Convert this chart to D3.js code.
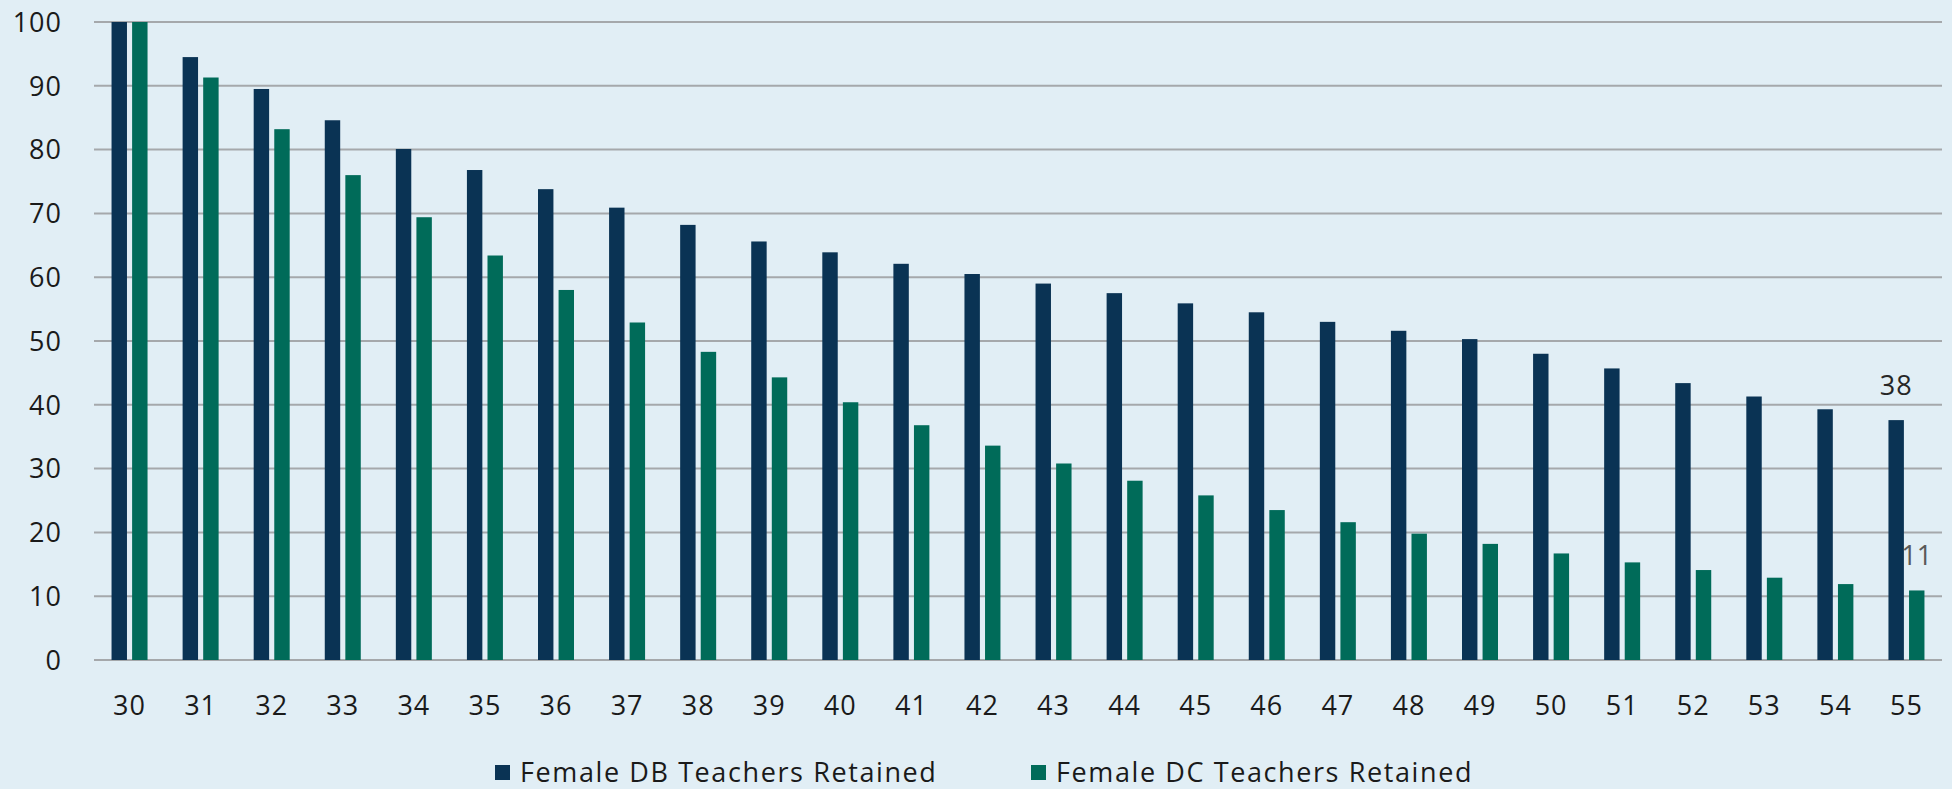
<!DOCTYPE html>
<html>
  <head>
    <title>Teachers Retained</title>
    <meta charset="UTF-8" />
    <style>
      body { margin: 0; background: #e1eef5; }
      text { font-family: "Open Sans", sans-serif; }
    </style>
  </head>
  <body>
    <script src="https://cdn.jsdelivr.net/npm/d3@7/dist/d3.min.js"></script>
    <script>
      var ages = ["30","31","32","33","34","35","36","37","38","39","40","41","42","43","44","45","46","47","48","49","50","51","52","53","54","55"];
      var dbRetained = [100, 94.5, 89.5, 84.6, 80.1, 76.8, 73.8, 70.9, 68.2, 65.6, 63.9, 62.1, 60.5, 59.0, 57.5, 55.9, 54.5, 53.0, 51.6, 50.3, 48.0, 45.7, 43.4, 41.3, 39.3, 37.6];
      var dcRetained = [100, 91.3, 83.2, 76.0, 69.4, 63.4, 58.0, 52.9, 48.3, 44.3, 40.4, 36.8, 33.6, 30.8, 28.1, 25.8, 23.5, 21.6, 19.8, 18.2, 16.7, 15.3, 14.1, 12.9, 11.9, 10.9];
      var seriesNames = ["Female DB Teachers Retained", "Female DC Teachers Retained"];
      var colors = ["#0a3354", "#006b59"];
      var yTicks = [0, 10, 20, 30, 40, 50, 60, 70, 80, 90, 100];

      var width = 1952, height = 789;
      var plotLeft = 94, plotRight = 1942, plotTop = 22, plotBottom = 660;

      var svg = d3.select("body").append("svg")
        .attr("width", width)
        .attr("height", height);

      var y = d3.scaleLinear().domain([0, 100]).range([plotBottom, plotTop]);
      var x0 = d3.scaleBand().domain(ages).range([plotLeft, plotRight]);
      var x1 = d3.scaleBand().domain([0, 1])
        .range([x0.bandwidth() / 2 - 18, x0.bandwidth() / 2 + 18])
        .paddingInner(0.25);

      // gridlines
      svg.append("g").selectAll("line")
        .data(yTicks)
        .enter().append("line")
        .attr("x1", plotLeft).attr("x2", plotRight)
        .attr("y1", function(d) { return y(d); })
        .attr("y2", function(d) { return y(d); })
        .style("stroke", "#a5a8ab")
        .style("stroke-width", 2);

      // y labels
      svg.append("g").selectAll("text")
        .data(yTicks)
        .enter().append("text")
        .attr("x", 62)
        .attr("y", function(d) { return y(d); })
        .attr("dy", "0.36em")
        .attr("text-anchor", "end")
        .style("font-size", "27px")
        .style("letter-spacing", "1px")
        .style("fill", "#1a1a1a")
        .text(function(d) { return d; });

      var series = [dbRetained, dcRetained];

      series.forEach(function(vals, s) {
        svg.append("g").selectAll("rect")
          .data(vals)
          .enter().append("rect")
          .attr("x", function(d, i) { return x0(ages[i]) + x1(s); })
          .attr("width", x1.bandwidth())
          .attr("y", function(d) { return y(d); })
          .attr("height", function(d) { return plotBottom - y(d); })
          .style("fill", colors[s]);
      });

      // x labels
      svg.append("g").selectAll("text")
        .data(ages)
        .enter().append("text")
        .attr("x", function(d) { return x0(d) + x0.bandwidth() / 2; })
        .attr("y", 705)
        .attr("dy", "0.36em")
        .attr("text-anchor", "middle")
        .style("font-size", "27px")
        .style("letter-spacing", "1px")
        .style("fill", "#1a1a1a")
        .text(function(d) { return d; });

      // end labels
      var last = ages.length - 1;
      svg.append("text")
        .attr("x", x0(ages[last]) + x1(0) + x1.bandwidth() / 2)
        .attr("y", y(dbRetained[last]) - 35)
        .attr("dy", "0.36em")
        .attr("text-anchor", "middle")
        .style("font-size", "27px")
        .style("letter-spacing", "1px")
        .style("fill", "#262626")
        .text(Math.round(dbRetained[last]));
      svg.append("text")
        .attr("x", x0(ages[last]) + x1(1) + x1.bandwidth() / 2)
        .attr("y", y(dcRetained[last]) - 35)
        .attr("dy", "0.36em")
        .attr("text-anchor", "middle")
        .style("font-size", "27px")
        .style("fill", "#595959")
        .text(Math.round(dcRetained[last]));

      // legend
      var legendX = [495, 1031];
      var legend = svg.append("g").selectAll("g")
        .data(seriesNames)
        .enter().append("g")
        .attr("transform", function(d, i) { return "translate(" + legendX[i] + ",772)"; });
      legend.append("rect")
        .attr("x", 0).attr("y", -7)
        .attr("width", 15).attr("height", 15)
        .style("fill", function(d, i) { return colors[i]; });
      legend.append("text")
        .attr("x", 25)
        .attr("dy", "0.36em")
        .style("font-size", "27px")
        .style("letter-spacing", "1.6px")
        .style("fill", "#1a1a1a")
        .text(function(d) { return d; });
    </script>
  </body>
</html>
